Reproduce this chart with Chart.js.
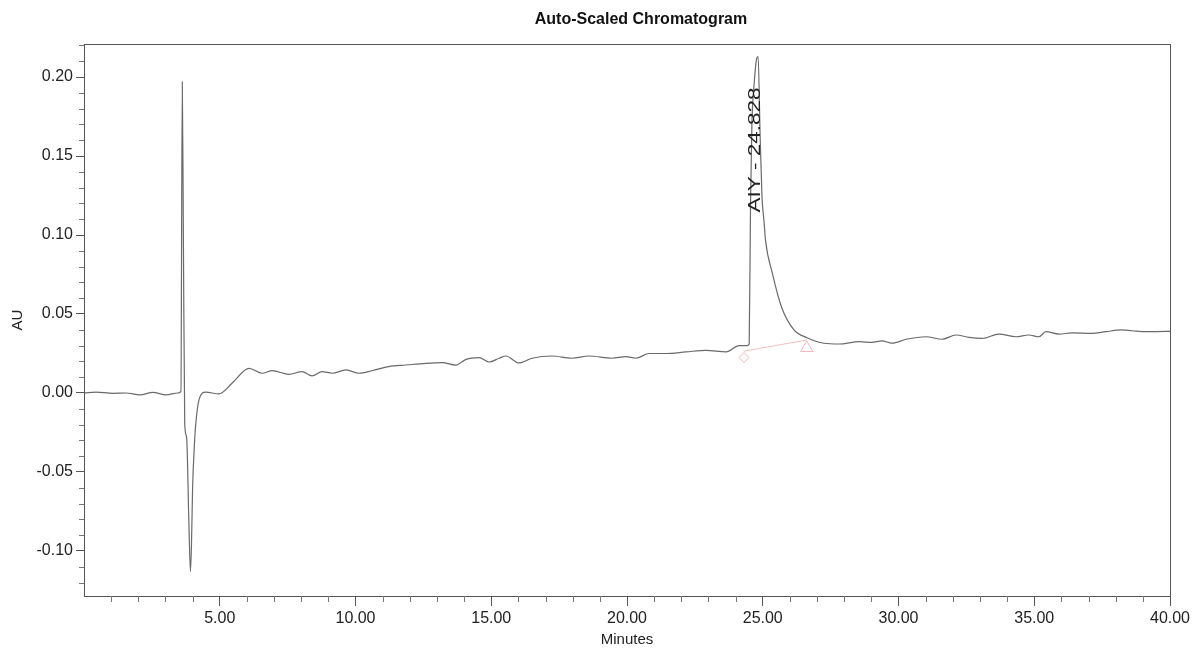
<!DOCTYPE html>
<html>
<head>
<meta charset="utf-8">
<script src="https://cdn.jsdelivr.net/npm/chart.js@4.4.1/dist/chart.umd.min.js"></script>
<style>
  body { margin: 0; background: #fff; }
  #wrap { width: 1198px; height: 649px; }
</style>
</head>
<body>
<div id="wrap"><canvas id="chromChart" width="1198" height="649"></canvas></div>
<script>
// run time (min) and detector response (AU)
const times = [0.00, 0.44, 1.07, 1.55, 2.06, 2.54, 3.02, 3.46, 3.57, 3.62, 3.66, 3.71, 3.78, 3.86, 3.92, 3.96,
  4.00, 4.06, 4.11, 4.24, 4.48, 4.97, 5.46, 6.08, 6.56, 6.93, 7.55, 8.03, 8.40, 8.77, 9.14, 9.65,
  10.13, 10.61, 11.23, 11.86, 12.60, 13.19, 13.70, 14.07, 14.55, 14.92, 15.29, 15.54, 16.02, 16.50,
  17.24, 17.97, 18.60, 19.45, 19.96, 20.33, 20.81, 21.44, 22.17, 22.91, 23.65, 24.13, 24.42, 24.50,
  24.55, 24.60, 24.68, 24.78, 24.83, 24.90, 24.97, 25.05, 25.10, 25.35, 25.70, 26.15, 26.63, 27.25,
  27.81, 28.55, 29.02, 29.39, 29.76, 30.28, 31.01, 31.60, 32.12, 32.60, 33.08, 33.70, 34.33, 34.80,
  35.17, 35.43, 35.91, 36.39, 37.13, 37.64, 38.23, 38.60, 39.12, 39.85, 40.00];
const absorbance = [0.0000, 0.0006, -0.0002, 0.0000, -0.0012, 0.0004, -0.0012, 0.0000, 0.0010, 0.1970, 0.1000, -0.0200, -0.0280, -0.0800, -0.1130, -0.0950,
  -0.0600, -0.0350, -0.0210, -0.0040, 0.0006, -0.0006, 0.0063, 0.0156, 0.0125, 0.0141, 0.0118, 0.0135, 0.0108, 0.0135, 0.0125, 0.0146,
  0.0125, 0.0141, 0.0167, 0.0177, 0.0188, 0.0192, 0.0177, 0.0213, 0.0224, 0.0196, 0.0220, 0.0234, 0.0190, 0.0220,
  0.0234, 0.0220, 0.0234, 0.0220, 0.0230, 0.0220, 0.0250, 0.0250, 0.0260, 0.0270, 0.0260, 0.0300, 0.0300, 0.0310,
  0.1200, 0.1700, 0.1950, 0.2120, 0.2130, 0.1650, 0.1250, 0.1080, 0.0970, 0.0760, 0.0540, 0.0400, 0.0350, 0.0315,
  0.0310, 0.0325, 0.0320, 0.0330, 0.0315, 0.0340, 0.0356, 0.0340, 0.0367, 0.0352, 0.0346, 0.0373, 0.0356, 0.0367,
  0.0356, 0.0388, 0.0373, 0.0380, 0.0377, 0.0388, 0.0399, 0.0394, 0.0388, 0.0390, 0.0390];

// integration baseline of the AIY peak, and its start/end markers
const baselineTimes = [24.31, 26.62];
const baselineValues = [0.0265, 0.0335];
const markerTimes = [24.31, 26.62];
const markerValues = [0.0225, 0.0285];

const peakName = 'AIY';
const peakTime = 24.828;
const peakHeight = 0.213;

const chartTitle = 'Auto-Scaled Chromatogram';
const xTickValues = [5, 10, 15, 20, 25, 30, 35, 40];
const yTickValues = [-0.10, -0.05, 0.00, 0.05, 0.10, 0.15, 0.20];
const xMinorStep = 1;
const yMinorStep = 0.01;

const FONT = '"Liberation Sans", Arial, sans-serif';
Chart.defaults.font.family = FONT;
Chart.defaults.color = '#222';

// frame, minor ticks, title and the rotated peak label
const chromDecor = {
  id: 'chromDecor',
  afterDraw(chart) {
    const { ctx, chartArea: a, scales: { x, y } } = chart;
    ctx.save();
    ctx.strokeStyle = '#555';
    ctx.lineWidth = 1;
    ctx.strokeRect(Math.round(a.left) + 0.5, Math.round(a.top) + 0.5,
      Math.round(a.right - a.left), Math.round(a.bottom - a.top));

    ctx.strokeStyle = '#777';
    ctx.beginPath();
    for (let v = x.min + xMinorStep; v < x.max; v += xMinorStep) {
      if (Math.abs(v / 5 - Math.round(v / 5)) < 1e-6) continue;
      const px = Math.round(x.getPixelForValue(v)) + 0.5;
      ctx.moveTo(px, a.bottom);
      ctx.lineTo(px, a.bottom + 6);
    }
    const yStart = Math.ceil(y.min / yMinorStep) * yMinorStep;
    for (let v = yStart; v < y.max; v += yMinorStep) {
      const r = Math.round(v * 100);
      if (r % 5 === 0) continue;
      const py = Math.round(y.getPixelForValue(r / 100)) + 0.5;
      ctx.moveTo(a.left - 5, py);
      ctx.lineTo(a.left, py);
    }
    ctx.stroke();

    ctx.fillStyle = '#111';
    ctx.font = 'bold 16px ' + FONT;
    ctx.textAlign = 'center';
    ctx.textBaseline = 'middle';
    ctx.fillText(chartTitle, 641, 20);

    const label = peakName + ' - ' + peakTime.toFixed(3);
    const lx = x.getPixelForValue(peakTime) - 2;
    const ly = y.getPixelForValue(peakHeight) + 31;
    ctx.translate(lx, ly);
    ctx.rotate(-Math.PI / 2);
    ctx.font = '16px ' + FONT;
    ctx.textAlign = 'right';
    ctx.textBaseline = 'middle';
    const w = ctx.measureText(label).width;
    ctx.scale(125 / w, 1);
    ctx.fillStyle = '#222';
    ctx.fillText(label, 0, 0);
    ctx.restore();
  }
};

const ctx = document.getElementById('chromChart').getContext('2d');
new Chart(ctx, {
  type: 'line',
  data: {
    datasets: [
      {
        label: 'Chromatogram',
        data: times.map((t, i) => ({ x: t, y: absorbance[i] })),
        borderColor: '#6a6a6a',
        borderWidth: 1.2,
        pointRadius: 0,
        cubicInterpolationMode: 'monotone',
        fill: false,
        order: 1
      },
      {
        label: 'Baseline',
        data: baselineTimes.map((t, i) => ({ x: t, y: baselineValues[i] })),
        borderColor: 'rgba(236, 165, 165, 0.7)',
        borderWidth: 1,
        pointRadius: 0,
        fill: false,
        order: 2
      },
      {
        label: 'Peak limits',
        data: markerTimes.map((t, i) => ({ x: t, y: markerValues[i] })),
        showLine: false,
        pointStyle: ['rectRot', 'triangle'],
        pointRadius: [5, 7],
        pointBorderColor: 'rgba(236, 165, 165, 0.8)',
        pointBackgroundColor: 'rgba(255, 255, 255, 0)',
        pointBorderWidth: 1,
        order: 3
      }
    ]
  },
  options: {
    responsive: false,
    animation: false,
    layout: { padding: { top: 44, right: 28, left: 0, bottom: 0 } },
    plugins: {
      legend: { display: false },
      tooltip: { enabled: false },
      title: { display: false }
    },
    scales: {
      x: {
        type: 'linear',
        min: 0,
        max: 40,
        afterFit: s => { s.height = 53; },
        afterBuildTicks: s => { s.ticks = xTickValues.map(v => ({ value: v })); },
        ticks: {
          font: { size: 16 },
          color: '#222',
          padding: 3,
          maxRotation: 0,
          autoSkip: false,
          callback: v => Number(v).toFixed(2)
        },
        grid: { drawOnChartArea: false, color: '#555', tickLength: 10 },
        border: { color: '#555', width: 1 },
        title: {
          display: true,
          text: 'Minutes',
          font: { size: 15 },
          color: '#222',
          padding: { top: 0, bottom: 0 }
        }
      },
      y: {
        type: 'linear',
        min: -0.1285,
        max: 0.2209,
        afterFit: s => { s.width = 84; },
        afterBuildTicks: s => { s.ticks = yTickValues.map(v => ({ value: v })); },
        ticks: {
          font: { size: 16 },
          color: '#222',
          padding: 3,
          autoSkip: false,
          callback: v => Number(v).toFixed(2)
        },
        grid: { drawOnChartArea: false, color: '#555', tickLength: 8 },
        border: { color: '#555', width: 1 },
        title: {
          display: true,
          text: 'AU',
          font: { size: 15 },
          color: '#222',
          padding: { top: 9, bottom: 0 }
        }
      }
    }
  },
  plugins: [chromDecor]
});
</script>
</body>
</html>
